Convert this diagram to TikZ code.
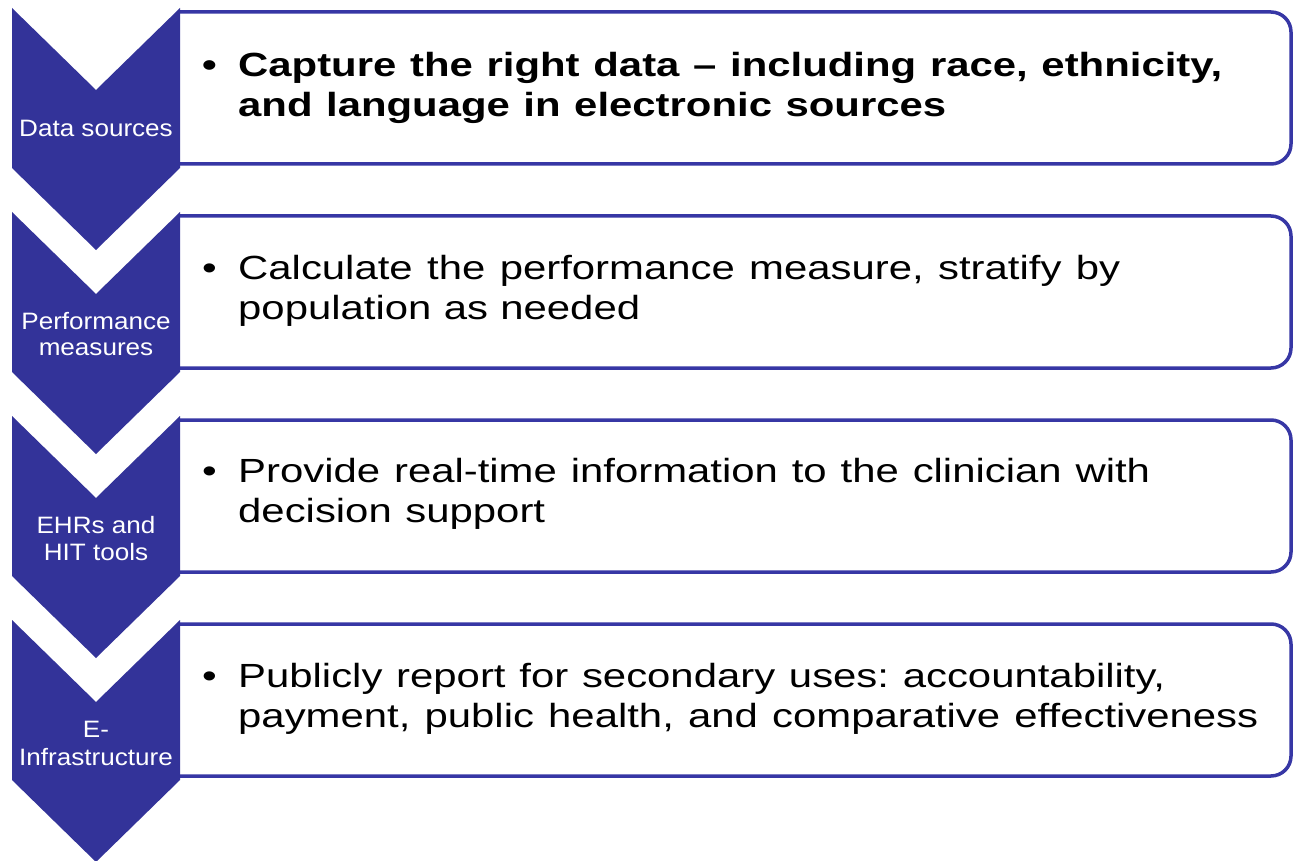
\documentclass[tikz,border=0pt]{standalone}
\usepackage{fontspec}
\setmainfont{Liberation Sans}
\newfontfamily\bodyfont[FakeStretch=1.25]{Liberation Sans}
\newfontfamily\labelfont[FakeStretch=1.1]{Liberation Sans}
\definecolor{chev}{RGB}{51,51,153}
\definecolor{edgeblue}{RGB}{55,55,165}
\frenchspacing
\tikzset{
  chevron/.style={fill=chev, draw=none},
  panel/.style={draw=edgeblue, line width=3.5pt, fill=white, rounded corners=20pt},
  steplabel/.style={text=white, font=\labelfont\fontsize{23.7}{27.5}\selectfont, inner sep=0pt, anchor=base},
  linetext/.style={text=black, font=\bodyfont\fontsize{33.5}{40}\selectfont, inner sep=0pt, anchor=base west},
  boldtext/.style={linetext, font=\bodyfont\bfseries\fontsize{33.5}{40}\selectfont},
}
\begin{document}
\begin{tikzpicture}[x=1pt, y=-1pt]
\useasboundingbox (0,0) rectangle (1293,861);
\fill[white] (0,0) rectangle (1293,861);
% panels (right side rounded, left hidden behind chevrons)
\foreach \o in {0,204,408,612}{
  \begin{scope}
    \clip (179,\o+4) rectangle (1293,\o+172);
    \draw[panel] (140,\o+12) rectangle (1291,\o+164);
  \end{scope}
}
% chevrons
\foreach \o in {0,204,408,612}{
  \fill[chevron] (12,\o+8) -- (96,\o+90) -- (180,\o+8) -- (180,\o+168) -- (96,\o+250) -- (12,\o+168) -- cycle;
}
% chevron labels
\node[steplabel] (lab1) at (96,137) {Data sources};
\node[steplabel] (lab2a) at (96,329) {Performance};
\node[steplabel] (lab2b) at (96,355) {measures};
\node[steplabel] (lab3a) at (96,533) {EHRs and};
\node[steplabel] (lab3b) at (96,560) {HIT tools};
\node[steplabel] (lab4a) at (96,737) {E-};
\node[steplabel] (lab4b) at (96,765) {Infrastructure};
% bullets and text
\node[boldtext] (b1) at (202,77) {•};
\node[boldtext] (t1a) at (238,77) {\makebox[984pt][s]{Capture the right data – including race, ethnicity,}};
\node[boldtext] (t1b) at (238,117) {\makebox[708pt][s]{and language in electronic sources}};
\node[linetext] (b2) at (202,279) {•};
\node[linetext] (t2a) at (238,279) {\makebox[882pt][s]{Calculate the performance measure, stratify by}};
\node[linetext] (t2b) at (238,319) {\makebox[402pt][s]{population as needed}};
\node[linetext] (b3) at (202,482) {•};
\node[linetext] (t3a) at (238,482) {\makebox[912pt][s]{Provide real-time information to the clinician with}};
\node[linetext] (t3b) at (238,522) {\makebox[307pt][s]{decision support}};
\node[linetext] (b4) at (202,687) {•};
\node[linetext] (t4a) at (238,687) {\makebox[927pt][s]{Publicly report for secondary uses: accountability,}};
\node[linetext] (t4b) at (238,727) {\makebox[1020pt][s]{payment, public health, and comparative effectiveness}};
\end{tikzpicture}
\end{document}
